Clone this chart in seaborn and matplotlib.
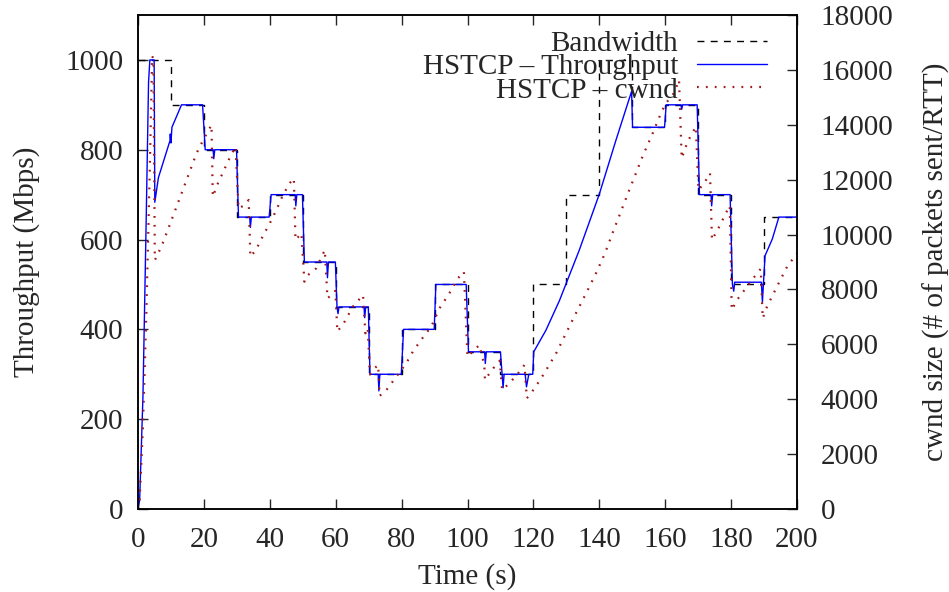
import matplotlib
matplotlib.use("Agg")
import matplotlib.pyplot as plt
import seaborn as sns
import pandas as pd

# ---------------- data ----------------
bw_time = [0, 10, 20, 30, 40, 50, 60, 70, 80, 90, 100, 110, 120, 130, 140,
           150, 160, 170, 180, 190, 200]
bw_mbps = [1000, 900, 800, 650, 700, 550, 450, 300, 400, 500, 350, 300, 500,
           700, 1000, 850, 900, 700, 500, 650, 650]

tp_time = [0.0, 0.5, 1.5, 2.5, 3.2, 3.6, 4.9, 5.1, 6.2, 9.7, 9.8, 10.0, 10.3,
           13.2, 19.6, 20.4, 22.8, 23.0, 23.3, 29.9, 30.5, 33.9, 34.1, 34.4,
           39.8, 40.4, 47.7, 47.9, 48.2, 49.9, 50.5, 57.3, 57.5, 57.8, 59.9,
           60.4, 60.7, 61.0, 68.6, 68.8, 69.1, 69.9, 70.4, 72.9, 73.1, 73.4,
           79.9, 80.6, 89.9, 90.4, 99.6, 100.3, 105.2, 105.4, 105.7, 110.0,
           110.5, 110.8, 111.1, 117.5, 117.9, 118.6, 119.8, 120.1, 123.8,
           127.9, 133.9, 140.0, 145.0, 149.8, 150.1, 159.8, 160.3, 164.8,
           165.0, 165.3, 169.7, 170.4, 173.9, 174.1, 174.4, 179.7, 180.4,
           180.8, 181.1, 189.2, 189.5, 190.3, 192.5, 194.5, 200.0]
tp_mbps = [0, 20, 250, 650, 950, 1000, 1000, 683, 738, 820, 835, 815, 850,
           900, 900, 800, 800, 780, 800, 800, 650, 650, 627, 650,
           650, 700, 700, 675, 700, 700, 550, 550, 515, 550, 550,
           450, 435, 450, 450, 426, 450, 450, 300, 300, 263, 300,
           300, 400, 400, 500, 500, 350, 350, 324, 350, 350,
           300, 270, 300, 300, 272, 300, 300, 350, 398,
           464, 576, 701, 820, 930, 850, 850, 900, 900,
           890, 900, 900, 700, 700, 675, 700, 700, 500,
           485, 505, 505, 461, 564, 601, 650, 650]

cw_time = [0.0, 0.5, 1.5, 2.5, 3.5, 4.3, 4.7, 5.1, 5.7, 7.7, 12.7, 17.8, 19.8,
           22.3, 22.7, 24.3, 27.8, 29.6, 30.5, 32.4, 33.6, 34.1, 35.8, 37.8,
           40.0, 42.0, 44.0, 46.0, 47.3, 47.8, 49.6, 50.5, 51.6, 54.1, 56.7,
           57.5, 58.7, 59.9, 60.5, 62.7, 65.2, 68.3, 69.0, 69.7, 70.4, 71.8,
           72.9, 73.3, 75.4, 78.4, 81.4, 83.4, 85.9, 89.0, 91.5, 94.5, 97.1,
           98.9, 100.0, 103.6, 105.1, 105.3, 106.7, 108.2, 109.8, 110.5,
           112.7, 114.2, 115.8, 117.3, 118.0, 119.6, 120.8, 123.3, 126.9,
           129.9, 132.9, 136.0, 139.0, 141.8, 144.0, 149.1, 153.1, 156.2,
           158.7, 160.2, 162.7, 164.2, 165.0, 166.8, 169.3, 170.1, 171.8,
           173.6, 174.2, 176.4, 178.9, 179.6, 180.2, 181.8, 184.8, 187.9,
           189.0, 189.6, 190.9, 193.9, 197.0, 200.0]
cw_pkts = [0, 300, 3000, 7000, 12000, 16500, 16400, 9074, 9195, 9741, 11333,
           12973, 13446, 13993, 11380, 11879, 12790, 13203, 10950, 11078,
           11260, 9194, 9438, 9923, 10411, 10896, 11442, 11868, 12050, 9802,
           10050, 8283, 8527, 8771, 9438, 7678, 7798, 7950, 6461, 6825, 7372,
           7798, 6402, 6600, 4900, 5127, 5250, 4118, 4336, 4821, 5309, 5732,
           6158, 6643, 7313, 7860, 8407, 8647, 5550, 5976, 5247, 4700, 4945,
           5186, 5400, 4336, 4580, 4785, 5004, 5250, 4033, 4275, 4482, 4945,
           5674, 6402, 7131, 7860, 8589, 9340, 10047, 11624, 12838, 13690,
           14419, 14783, 15160, 15633, 12779, 13385, 13932, 11624, 11869,
           12233, 9802, 10287, 10896, 11050, 7252, 7616, 8100, 8589, 8750,
           6949, 7372, 8100, 8830, 9317]

x_ticks = [0, 20, 40, 60, 80, 100, 120, 140, 160, 180, 200]
y_ticks = [0, 200, 400, 600, 800, 1000]
y2_ticks = [0, 2000, 4000, 6000, 8000, 10000, 12000, 14000, 16000, 18000]

# ---------------- style ----------------
FS = 21
sns.set_style("ticks")
plt.rcParams["font.family"] = ["Liberation Serif", "DejaVu Serif"]
plt.rcParams["font.size"] = FS
plt.rcParams["axes.linewidth"] = 1.1

fig = plt.figure(figsize=(9.49, 5.92), dpi=100)
ax = fig.add_axes([138 / 949, 1 - 509 / 592, 659 / 949, 494 / 592])
ax2 = ax.twinx()

bw = pd.DataFrame({"t": bw_time, "v": bw_mbps})
tp = pd.DataFrame({"t": tp_time, "v": tp_mbps})
cw = pd.DataFrame({"t": cw_time, "v": cw_pkts})

sns.lineplot(data=bw, x="t", y="v", ax=ax, color="black", lw=1.0,
             linestyle=(0, (5, 4.5)), drawstyle="steps-post",
             estimator=None, sort=False, label="Bandwidth")
sns.lineplot(data=tp, x="t", y="v", ax=ax, color="#0000ff", lw=1.0,
             estimator=None, sort=False, label="HSTCP \u2013 Throughput")
sns.lineplot(data=cw, x="t", y="v", ax=ax2, color="#a01818", lw=1.6,
             linestyle=(0, (0.8, 3.2)), estimator=None, sort=False,
             label="HSTCP \u2013 cwnd")

ax.set_xlim(0, 200)
ax.set_ylim(0, 1100)
ax2.set_ylim(0, 18000)
ax.set_xticks(x_ticks)
ax.set_yticks(y_ticks)
ax2.set_yticks(y2_ticks)

ax.tick_params(axis="x", direction="in", length=7, width=1, top=True,
               pad=13, labelsize=FS)
ax.tick_params(axis="y", direction="in", length=7, width=1, right=False,
               pad=10.5, labelsize=FS)
ax2.tick_params(axis="y", direction="in", length=7, width=1, pad=17,
                labelsize=FS)

ax.set_xlabel("Time (s)", fontsize=FS, labelpad=7)
ax.set_ylabel("Throughput (Mbps)", fontsize=FS, labelpad=18)
ax2.set_ylabel("cwnd size (# of packets sent/RTT)", fontsize=FS, labelpad=21)

for a in (ax, ax2):
    for s in a.spines.values():
        s.set_visible(True)
        s.set_linewidth(1.1)
        s.set_color("black")

h1, l1 = ax.get_legend_handles_labels()
h2, l2 = ax2.get_legend_handles_labels()
if ax.get_legend() is not None:
    ax.get_legend().remove()
ax2.legend(h1 + h2, l1 + l2, loc="upper right",
           bbox_to_anchor=(0.9545, 0.968), frameon=False, markerfirst=False,
           borderpad=0, borderaxespad=0, handlelength=2.4,
           handletextpad=0.65, labelspacing=-0.11, fontsize=FS)

fig.savefig("out.png", dpi=100)
